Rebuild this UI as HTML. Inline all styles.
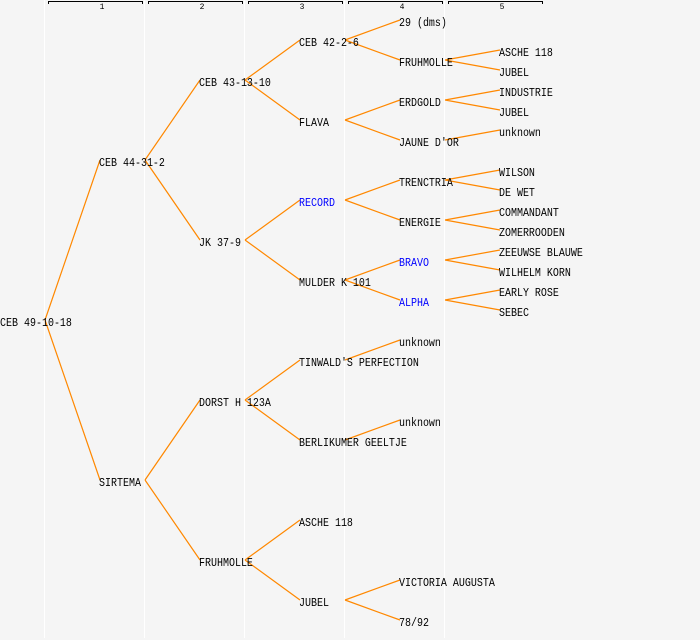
<!DOCTYPE html>
<html><head><meta charset="utf-8"><style>
html,body{margin:0;padding:0;background:#f5f5f5}
svg{display:block}
text{font-family:"Liberation Mono",monospace;font-size:12px;fill:#000}
.b{fill:#00f}
.n{font-size:8px;text-anchor:middle}
</style></head><body>
<svg width="700" height="640" viewBox="0 0 700 640" xmlns="http://www.w3.org/2000/svg">
<rect width="700" height="640" fill="#f5f5f5"/>
<g stroke="#fff" stroke-width="1" shape-rendering="crispEdges">
<path d="M44.5 0V638M144.5 0V638M244.5 0V638M344.5 0V638M444.5 0V638"/>
</g>
<g fill="none" stroke="#000" stroke-width="1" shape-rendering="crispEdges">
<path d="M48.5 4V1.5H142.5V4M148.5 4V1.5H242.5V4M248.5 4V1.5H342.5V4M348.5 4V1.5H442.5V4M448.5 4V1.5H542.5V4"/>
</g>
<text class="n" x="102" y="9">1</text><text class="n" x="202" y="9">2</text><text class="n" x="302" y="9">3</text><text class="n" x="402" y="9">4</text><text class="n" x="502" y="9">5</text>
<g fill="none" stroke="#ff8800" stroke-width="1.2">
<path d="M45 320L100 160M45 320L100 480"/>
<path d="M145 160L200 80M145 160L200 240M145 480L200 400M145 480L200 560"/>
<path d="M245 80L300 40M245 80L300 120M245 240L300 200M245 240L300 280M245 400L300 360M245 400L300 440M245 560L300 520M245 560L300 600"/>
<path d="M345 40L400 20M345 40L400 60M345 120L400 100M345 120L400 140M345 200L400 180M345 200L400 220M345 280L400 260M345 280L400 300M345 360L400 340M345 440L400 420M345 600L400 580M345 600L400 620"/>
<path d="M445 60L500 50M445 60L500 70M445 100L500 90M445 100L500 110M445 140L500 130M445 180L500 170M445 180L500 190M445 220L500 210M445 220L500 230M445 260L500 250M445 260L500 270M445 300L500 290M445 300L500 310"/>
</g>
<g transform="scale(0.8333 1)">
<text x="0" y="326">CEB 49-10-18</text>
<text x="118.8" y="166">CEB 44-31-2</text>
<text x="118.8" y="486">SIRTEMA</text>
<text x="238.8" y="86">CEB 43-13-10</text>
<text x="238.8" y="246">JK 37-9</text>
<text x="238.8" y="406">DORST H 123A</text>
<text x="238.8" y="566">FRUHMOLLE</text>
<text x="358.8" y="46">CEB 42-2-6</text>
<text x="358.8" y="126">FLAVA</text>
<text class="b" x="358.8" y="206">RECORD</text>
<text x="358.8" y="286">MULDER K 101</text>
<text x="358.8" y="366">TINWALD'S PERFECTION</text>
<text x="358.8" y="446">BERLIKUMER GEELTJE</text>
<text x="358.8" y="526">ASCHE 118</text>
<text x="358.8" y="606">JUBEL</text>
<text x="478.8" y="26">29 (dms)</text>
<text x="478.8" y="66">FRUHMOLLE</text>
<text x="478.8" y="106">ERDGOLD</text>
<text x="478.8" y="146">JAUNE D'OR</text>
<text x="478.8" y="186">TRENCTRIA</text>
<text x="478.8" y="226">ENERGIE</text>
<text class="b" x="478.8" y="266">BRAVO</text>
<text class="b" x="478.8" y="306">ALPHA</text>
<text x="478.8" y="346">unknown</text>
<text x="478.8" y="426">unknown</text>
<text x="478.8" y="586">VICTORIA AUGUSTA</text>
<text x="478.8" y="626">78/92</text>
<text x="598.8" y="56">ASCHE 118</text>
<text x="598.8" y="76">JUBEL</text>
<text x="598.8" y="96">INDUSTRIE</text>
<text x="598.8" y="116">JUBEL</text>
<text x="598.8" y="136">unknown</text>
<text x="598.8" y="176">WILSON</text>
<text x="598.8" y="196">DE WET</text>
<text x="598.8" y="216">COMMANDANT</text>
<text x="598.8" y="236">ZOMERROODEN</text>
<text x="598.8" y="256">ZEEUWSE BLAUWE</text>
<text x="598.8" y="276">WILHELM KORN</text>
<text x="598.8" y="296">EARLY ROSE</text>
<text x="598.8" y="316">SEBEC</text>
</g>
</svg>
</body></html>
